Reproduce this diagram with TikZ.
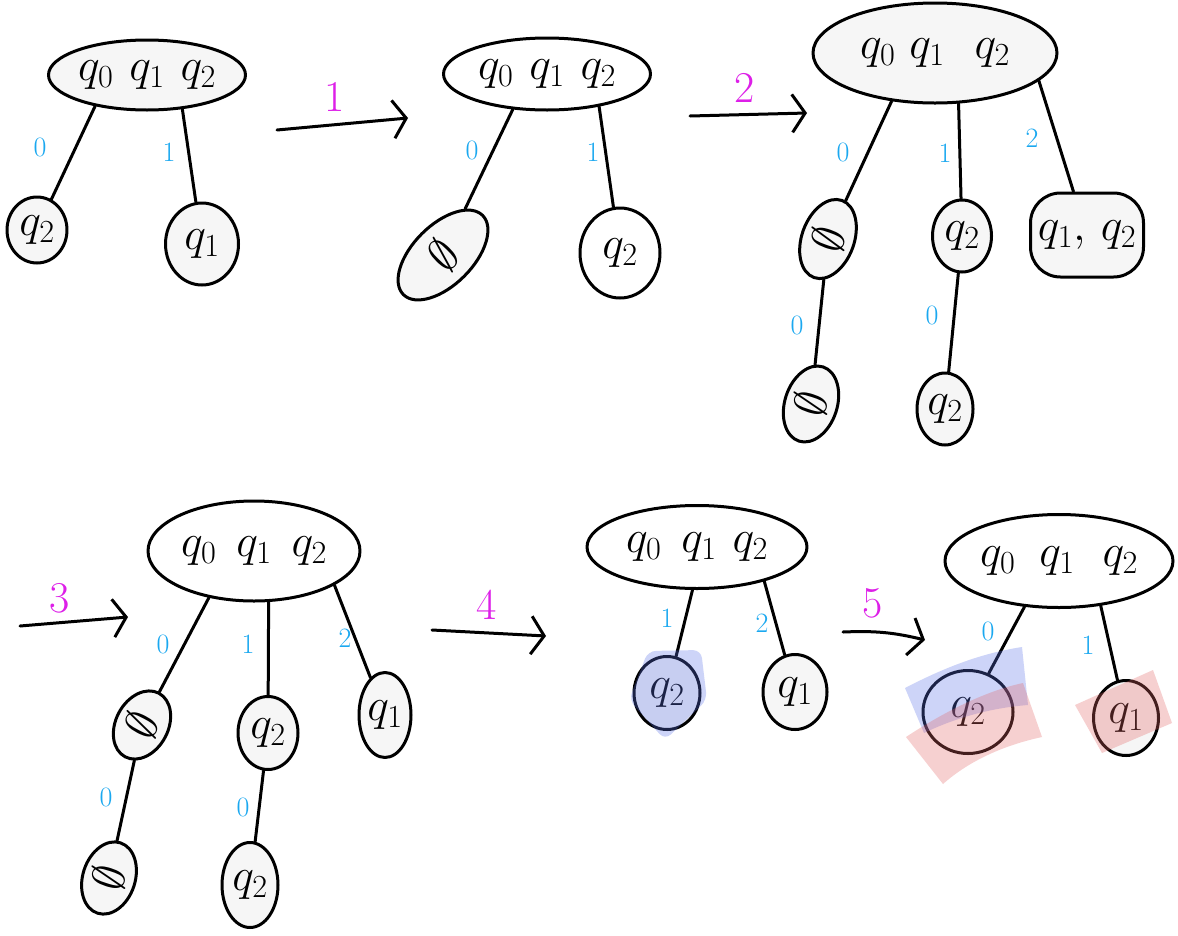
\RequirePackage{fix-cm}
\documentclass[tikz,border=0pt]{standalone}
\usetikzlibrary{shapes.geometric,arrows.meta}
\definecolor{edgeblue}{HTML}{1AA8F0}
\definecolor{stepmag}{HTML}{DD1FE8}
\definecolor{paper}{HTML}{F6F6F6}
\definecolor{markblue}{HTML}{5C72E8}
\definecolor{markred}{HTML}{E46464}
\newcommand{\zw}[1]{\makebox[0pt]{#1}}
\tikzset{
  ink/.style={line width=3pt, line cap=round, line join=round},
  stnode/.style={ellipse, draw, ink, inner sep=0pt, font=\fontsize{46}{46}\selectfont},
  blobnode/.style={rectangle, rounded corners=30pt, draw, ink, inner sep=0pt, font=\fontsize{46}{46}\selectfont},
  shade/.style={fill=paper},
  conn/.style={ink},
  stepto/.style={ink, -{Straight Barb[length=13pt, width=38pt, line width=3pt]}},
  sym/.style={text=edgeblue, font=\fontsize{28}{28}\selectfont},
  stepno/.style={text=stepmag, font=\fontsize{44}{44}\selectfont},
  markb/.style={fill=markblue, fill opacity=0.3, draw=none},
  markr/.style={fill=markred, fill opacity=0.3, draw=none},
}
\begin{document}
\begin{tikzpicture}[x=1pt,y=-1pt]
\fill[white] (0,0) rectangle (1178,935);
\useasboundingbox (0,0) rectangle (1178,935);

% ---------- tree 1 ----------
\node[stnode,shade,minimum width=197pt,minimum height=70pt] (a1) at (147,75) {\zw{$q_0$\hspace{16pt}$q_1$\hspace{16pt}$q_2$}};
\node[stnode,shade,minimum width=60pt,minimum height=66pt] (b1) at (37,230) {\zw{$q_2$}};
\node[stnode,shade,minimum width=73pt,minimum height=82pt] (c1) at (202,244) {\zw{$q_1$}};
\draw[conn] (a1.211) -- (b1);
\draw[conn] (a1.316) -- (c1);
\node[sym] (l1a) at (40,147) {0};
\node[sym] (l1b) at (169,152) {1};

% step 1
\coordinate (s1a) at (277,130);
\coordinate (s1b) at (408,118);
\draw[stepto] (s1a) -- (s1b);
\node[stepno] (n1) at (335,97) {1};

% ---------- tree 2 ----------
\node[stnode,minimum width=207pt,minimum height=72pt] (a2) at (547,74) {\zw{$q_0$\hspace{16pt}$q_1$\hspace{16pt}$q_2$}};
\node[stnode,shade,minimum width=112pt,minimum height=60pt,rotate=45] (b2) at (443,255) {\zw{$\emptyset$}};
\node[stnode,minimum width=80pt,minimum height=90pt] (c2) at (620,253) {\zw{$q_2$}};
\draw[conn] (a2.226) -- (b2);
\draw[conn] (a2.328) -- (c2);
\node[sym] (l2a) at (472,150) {0};
\node[sym] (l2b) at (593,152) {1};

% step 2
\coordinate (s2a) at (690,116);
\coordinate (s2b) at (807,113);
\draw[stepto] (s2a) -- (s2b);
\node[stepno] (n2) at (745,88) {2};

% ---------- tree 3 ----------
\node[stnode,shade,minimum width=244pt,minimum height=100pt] (a3) at (935,53) {\zw{$q_0$\hspace{14pt}$q_1$\hspace{30pt}$q_2$}};
\node[stnode,shade,minimum width=82pt,minimum height=46pt,rotate=70] (b3) at (828,239) {\zw{$\emptyset$}};
\node[stnode,shade,minimum width=59pt,minimum height=72pt] (c3) at (962,236) {\zw{$q_2$}};
\node[blobnode,shade,minimum width=113pt,minimum height=84pt] (d3) at (1087,235) {\zw{$q_1,\,q_2$}};
\node[stnode,shade,minimum width=78pt,minimum height=40pt,rotate=72] (e3) at (811,404) {\zw{$\emptyset$}};
\node[stnode,shade,minimum width=56pt,minimum height=72pt] (f3) at (945,409) {\zw{$q_2$}};
\draw[conn] (a3.228) -- (b3);
\draw[conn] (a3.295) -- (c3);
\draw[conn] (a3.345) -- (d3);
\draw[conn] (b3) -- (e3);
\draw[conn] (c3) -- (f3);
\node[sym] (l3a) at (843,152) {0};
\node[sym] (l3b) at (945,153) {1};
\node[sym] (l3c) at (1032,138) {2};
\node[sym] (l3d) at (797,325) {0};
\node[sym] (l3e) at (932,315) {0};

% step 3
\coordinate (s3a) at (20,626);
\coordinate (s3b) at (128,617);
\draw[stepto] (s3a) -- (s3b);
\node[stepno] (n3) at (60,598) {3};

% ---------- tree 4 ----------
\node[stnode,minimum width=212pt,minimum height=100pt] (a4) at (254,551) {\zw{$q_0$\hspace{20pt}$q_1$\hspace{20pt}$q_2$}};
\node[stnode,shade,minimum width=72pt,minimum height=48pt,rotate=62] (b4) at (142,725) {\zw{$\emptyset$}};
\node[stnode,shade,minimum width=60pt,minimum height=73pt] (c4) at (268,733) {\zw{$q_2$}};
\node[stnode,shade,minimum width=52pt,minimum height=85pt] (d4) at (385,715) {\zw{$q_1$}};
\node[stnode,shade,minimum width=74pt,minimum height=36pt,rotate=72] (e4) at (109,878) {\zw{$\emptyset$}};
\node[stnode,shade,minimum width=56pt,minimum height=85pt] (f4) at (250,885) {\zw{$q_2$}};
\draw[conn] (a4.226) -- (b4);
\draw[conn] (a4.286) -- (c4);
\draw[conn] (a4.337) -- (d4);
\draw[conn] (b4) -- (e4);
\draw[conn] (c4) -- (f4);
\node[sym] (l4a) at (163,644) {0};
\node[sym] (l4b) at (248,644) {1};
\node[sym] (l4c) at (345,638) {2};
\node[sym] (l4d) at (106,797) {0};
\node[sym] (l4e) at (243,807) {0};

% step 4
\coordinate (s4a) at (432,630);
\coordinate (s4b) at (546,636);
\draw[stepto] (s4a) -- (s4b);
\node[stepno] (n4) at (487,605) {4};

% ---------- tree 5 ----------
\node[stnode,minimum width=220pt,minimum height=83pt] (a5) at (697,547) {\zw{$q_0$\hspace{20pt}$q_1$\hspace{16pt}$q_2$}};
\node[stnode,shade,minimum width=66pt,minimum height=73pt] (b5) at (667,693) {\zw{$q_2$}};
\node[stnode,shade,minimum width=64pt,minimum height=75pt] (c5) at (795,692) {\zw{$q_1$}};
\draw[conn] (a5.264) -- (b5);
\draw[conn] (a5.333) -- (c5);
\node[sym] (l5a) at (667,618) {1};
\node[sym] (l5b) at (762,623) {2};
\fill[markb, rounded corners=8pt] (629,700) -- (648,651) -- (701,650) -- (707,700) -- (665,740) -- cycle;

% step 5
\coordinate (s5a) at (843,632);
\coordinate (s5b) at (925,640);
\draw[stepto] (s5a) to[bend left=8] (s5b);
\node[stepno] (n5) at (873,603) {5};

% ---------- tree 6 ----------
\node[stnode,minimum width=228pt,minimum height=93pt] (a6) at (1059,561) {\zw{$q_0$\hspace{24pt}$q_1$\hspace{28pt}$q_2$}};
\node[stnode,minimum width=90pt,minimum height=83pt] (b6) at (968,712) {\zw{$q_2$}};
\node[stnode,shade,minimum width=65pt,minimum height=75pt] (c6) at (1126,718) {\zw{$q_1$}};
\draw[conn] (a6.233) -- (b6);
\draw[conn] (a6.313) -- (c6);
\node[sym] (l6a) at (988,631) {0};
\node[sym] (l6b) at (1088,645) {1};
\fill[markb] (905,688) .. controls (955,662) and (990,652) .. (1022,647) -- (1028,705) .. controls (990,708) and (955,718) .. (924,733) -- cycle;
\fill[markr] (906,737) .. controls (950,708) and (990,690) .. (1023,683) -- (1042,737) .. controls (1005,745) and (970,760) .. (943,784) -- cycle;
\fill[markr] (1075,705) -- (1153,670) -- (1172,723) -- (1102,753) -- cycle;
\end{tikzpicture}
\end{document}
